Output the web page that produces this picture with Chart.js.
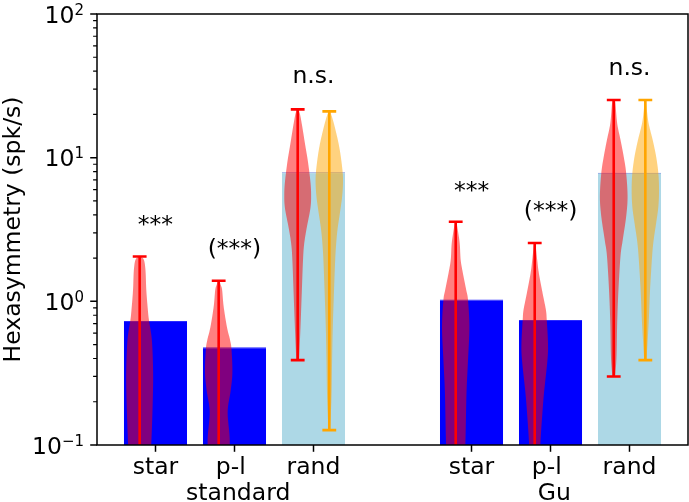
<!DOCTYPE html>
<html><head><meta charset="utf-8">
<script src="https://cdn.jsdelivr.net/npm/chart.js@4.4.0/dist/chart.umd.min.js"></script>
<style>html,body{margin:0;padding:0;background:#fff}#wrap{width:689px;height:502px;position:relative}</style>
</head><body><div id="wrap"><canvas id="c" width="689" height="502"></canvas></div>
<script>
// ---------- data ----------
const categories = ['star', 'p-l', 'rand', 'star', 'p-l', 'rand'];
const groupNames = ['standard', 'Gu'];
const barValues = [0.73, 0.48, 7.9, 1.03, 0.74, 7.85];

const redMax = [2.05, 1.39, 21.7, 3.58, 2.55, 25.2];
const redMin = [0.04, 0.04, 0.39, 0.04, 0.04, 0.30];
const orangeMax = [null, null, 21.0, null, null, 25.2];
const orangeMin = [null, null, 0.127, null, null, 0.39];

const redProfileY = [
  [2.05, 1.95, 1.65, 1.20, 0.90, 0.74, 0.54, 0.33, 0.21, 0.108, 0.06, 0.04],
  [1.39, 1.30, 1.20, 0.92, 0.66, 0.54, 0.46, 0.32, 0.24, 0.17, 0.108, 0.07, 0.04],
  [21.7, 19.8, 16.0, 12.3, 9.4, 6.8, 5.5, 4.45, 3.2, 2.47, 1.89, 1.11, 0.65, 0.39],
  [3.58, 3.14, 2.53, 1.94, 1.57, 1.20, 1.02, 0.66, 0.39, 0.23, 0.103, 0.07, 0.04],
  [2.55, 1.94, 1.57, 1.14, 0.87, 0.74, 0.51, 0.39, 0.23, 0.16, 0.103, 0.07, 0.04],
  [25.2, 24.0, 17.3, 13.3, 10.2, 7.8, 5.35, 3.9, 2.67, 2.07, 1.20, 0.71, 0.41, 0.30]
];
const redProfileW = [
  [0.05, 0.30, 0.42, 0.48, 0.58, 0.67, 0.88, 0.97, 0.95, 0.85, 0.70, 0.30],
  [0.05, 0.15, 0.25, 0.36, 0.60, 0.82, 0.93, 0.99, 0.87, 0.65, 0.80, 0.70, 0.30],
  [0.05, 0.18, 0.35, 0.54, 0.74, 0.92, 0.97, 0.92, 0.64, 0.46, 0.38, 0.29, 0.20, 0.10],
  [0.05, 0.15, 0.29, 0.36, 0.52, 0.76, 0.89, 0.99, 0.89, 0.78, 0.70, 0.60, 0.30],
  [0.05, 0.18, 0.30, 0.57, 0.81, 0.87, 0.96, 0.92, 0.67, 0.54, 0.41, 0.35, 0.20],
  [0.05, 0.12, 0.25, 0.49, 0.72, 0.90, 1.00, 0.90, 0.65, 0.49, 0.34, 0.25, 0.20, 0.10]
];
const orangeProfileY = [null, null,
  [21.0, 18.9, 16.0, 12.3, 9.4, 7.2, 5.5, 4.2, 3.2, 2.47, 1.89, 1.11, 0.65, 0.38, 0.22, 0.127],
  null, null,
  [25.2, 21.5, 17.3, 13.3, 10.2, 7.8, 5.96, 4.55, 3.5, 2.67, 2.07, 1.20, 0.71, 0.39]
];
const orangeProfileW = [null, null,
  [0.05, 0.22, 0.42, 0.69, 0.88, 0.99, 0.94, 0.78, 0.60, 0.49, 0.42, 0.33, 0.25, 0.20, 0.16, 0.06],
  null, null,
  [0.05, 0.11, 0.24, 0.53, 0.78, 0.94, 0.99, 0.94, 0.78, 0.60, 0.49, 0.34, 0.24, 0.08]
];

const annotations = ['***', '(***)', 'n.s.', '***', '(***)', 'n.s.'];
const annotationY = [3.03, 2.06, 32.9, 5.25, 3.82, 37.6];

const yTickValues = [0.1, 1, 10, 100];
const yTickExponents = ['\u2212' + '1', '0', '1', '2'];
const yTitle = 'Hexasymmetry (spk/s)';

// ---------- derived ----------
const xPos = categories.map((c, i) => i + Math.floor(i / 3));
const xTickLabels = categories.map((c, i) => i % 3 === 1 ? [c + ' ', ' ' + groupNames[Math.floor(i / 3)]] : c);

const FONT = 'DejaVu Sans';
const FS = 23.5;
const SUP = 15;
Chart.defaults.font.family = FONT;
Chart.defaults.color = '#000';

function cr(a, b, c, d, t) {
  const t2 = t * t, t3 = t2 * t;
  return 0.5 * ((2 * b) + (-a + c) * t + (2 * a - 5 * b + 4 * c - d) * t2 + (-a + 3 * b - 3 * c + d) * t3);
}
function drawViolin(ctx, xs, ys, cx, vals, ws, color) {
  const unit = xs.getPixelForValue(1) - xs.getPixelForValue(0);
  const pys = vals.map(v => ys.getPixelForValue(v));
  const hws = ws.map(w => w * 0.175 * unit);
  const n = pys.length, pts = [];
  for (let i = 0; i < n - 1; i++) {
    const p0 = i > 0 ? i - 1 : i, p3 = i + 2 < n ? i + 2 : i + 1;
    for (let s = 0; s < 12; s++) {
      const t = s / 12;
      pts.push([cr(pys[p0], pys[i], pys[i + 1], pys[p3], t), Math.max(0, cr(hws[p0], hws[i], hws[i + 1], hws[p3], t))]);
    }
  }
  pts.push([pys[n - 1], hws[n - 1]]);
  const px = xs.getPixelForValue(cx);
  ctx.fillStyle = color;
  ctx.beginPath();
  pts.forEach(([py, hw], k) => k ? ctx.lineTo(px + hw, py) : ctx.moveTo(px + hw, py));
  for (let k = pts.length - 1; k >= 0; k--) ctx.lineTo(px - pts[k][1], pts[k][0]);
  ctx.closePath();
  ctx.fill();
}
function drawWhisker(ctx, xs, ys, cx, vmin, vmax, color) {
  const unit = xs.getPixelForValue(1) - xs.getPixelForValue(0);
  const px = xs.getPixelForValue(cx), cap = 0.0875 * unit;
  const y1 = ys.getPixelForValue(vmin), y2 = ys.getPixelForValue(vmax);
  ctx.strokeStyle = color;
  ctx.lineWidth = 2.6;
  ctx.beginPath();
  ctx.moveTo(px, y1); ctx.lineTo(px, y2);
  ctx.moveTo(px - cap, y2); ctx.lineTo(px + cap, y2);
  ctx.moveTo(px - cap, y1); ctx.lineTo(px + cap, y1);
  ctx.stroke();
}

const overlay = {
  id: 'overlay',
  afterDatasetsDraw(chart) {
    const { ctx, chartArea: ca, scales: { x, y } } = chart;
    ctx.save();
    ctx.beginPath();
    ctx.rect(ca.left, ca.top, ca.right - ca.left, ca.bottom - ca.top);
    ctx.clip();
    for (let i = 0; i < categories.length; i++) {
      drawViolin(ctx, x, y, xPos[i] - 0.2, redProfileY[i], redProfileW[i], 'rgba(255,0,0,0.5)');
      drawWhisker(ctx, x, y, xPos[i] - 0.2, redMin[i], redMax[i], '#ff0000');
    }
    for (let i = 0; i < categories.length; i++) {
      if (!orangeProfileY[i]) continue;
      drawViolin(ctx, x, y, xPos[i] + 0.2, orangeProfileY[i], orangeProfileW[i], 'rgba(255,165,0,0.5)');
      drawWhisker(ctx, x, y, xPos[i] + 0.2, orangeMin[i], orangeMax[i], '#ffa500');
    }
    ctx.restore();

    ctx.save();
    // annotations
    ctx.fillStyle = '#000';
    ctx.font = FS + 'px "' + FONT + '"';
    ctx.textAlign = 'center';
    ctx.textBaseline = 'alphabetic';
    annotations.forEach((t, i) => ctx.fillText(t, x.getPixelForValue(xPos[i]), y.getPixelForValue(annotationY[i])));

    // frame
    ctx.strokeStyle = '#000';
    ctx.lineWidth = 1.5;
    ctx.strokeRect(ca.left, ca.top, ca.right - ca.left, ca.bottom - ca.top);

    // y ticks
    ctx.beginPath();
    yTickValues.forEach(v => {
      const py = y.getPixelForValue(v);
      ctx.moveTo(ca.left - 6.8, py); ctx.lineTo(ca.left, py);
    });
    ctx.stroke();
    ctx.lineWidth = 1.2;
    ctx.beginPath();
    for (let k = 0; k < yTickValues.length - 1; k++) {
      for (let m = 2; m <= 9; m++) {
        const py = y.getPixelForValue(yTickValues[k] * m);
        ctx.moveTo(ca.left - 3.9, py); ctx.lineTo(ca.left, py);
      }
    }
    ctx.stroke();

    // y tick labels 10^k, right edge ~13 px left of the axis
    const right = ca.left - 13;
    ctx.textAlign = 'left';
    yTickValues.forEach((v, i) => {
      const py = y.getPixelForValue(v);
      ctx.font = SUP + 'px "' + FONT + '"';
      const ws = ctx.measureText(yTickExponents[i]).width;
      ctx.font = FS + 'px "' + FONT + '"';
      const wb = ctx.measureText('10').width;
      const x0 = right - ws - wb;
      ctx.fillText('10', x0, py + 8.8);
      ctx.font = SUP + 'px "' + FONT + '"';
      ctx.fillText(yTickExponents[i], x0 + wb, py + 0.8);
    });
    ctx.restore();
  }
};

new Chart(document.getElementById('c'), {
  type: 'bar',
  data: {
    datasets: [{
      data: xPos.map((v, i) => ({ x: v, y: barValues[i] })),
      backgroundColor: categories.map(c => c === 'rand' ? '#add8e6' : '#0000ff'),
      borderColor: categories.map(c => c === 'rand' ? 'rgba(70,100,210,0.75)' : '#2a2aff'),
      borderWidth: { top: 1, left: 0, right: 0, bottom: 0 },
      borderSkipped: false,
      barPercentage: 0.8,
      categoryPercentage: 1.0
    }]
  },
  options: {
    responsive: false,
    animation: false,
    events: [],
    layout: { padding: { left: 0, top: 14, right: 1, bottom: 0 } },
    plugins: { legend: { display: false }, tooltip: { enabled: false }, title: { display: false } },
    scales: {
      x: {
        type: 'linear', min: -0.74, max: 6.74, offset: false,
        afterBuildTicks: s => { s.ticks = xPos.map(v => ({ value: v })); },
        afterFit: s => { s.height = 57; },
        ticks: {
          callback: (v, i) => xTickLabels[i],
          color: '#000', font: { size: FS, lineHeight: 1.1 }, padding: 3.3,
          maxRotation: 0, minRotation: 0, autoSkip: false
        },
        grid: { display: true, offset: false, drawOnChartArea: false, drawTicks: true, tickLength: 6.8, tickColor: '#000', tickWidth: 1.5 },
        border: { display: false }
      },
      y: {
        type: 'logarithmic', min: 0.1, max: 100,
        afterFit: s => { s.width = 97; },
        ticks: { display: false },
        grid: { display: false },
        border: { display: false },
        title: { display: true, text: yTitle, color: '#000', font: { size: FS }, padding: 0 }
      }
    }
  },
  plugins: [overlay]
});
</script>
</body></html>
